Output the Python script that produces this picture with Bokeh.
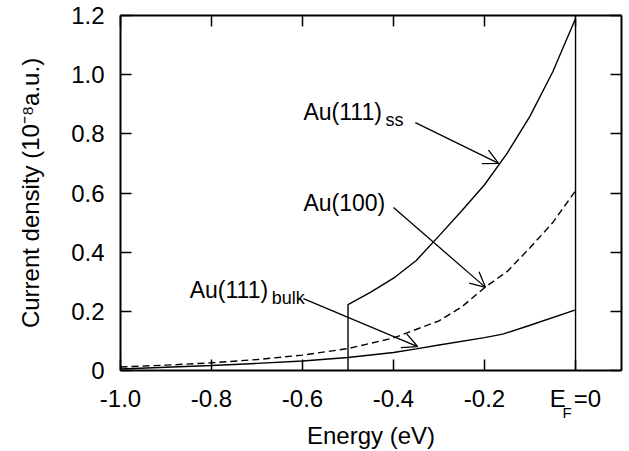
from bokeh.plotting import figure
from bokeh.models import Range1d, LinearAxis, FixedTicker, Label, Arrow, OpenHead, CustomJSTickFormatter
from bokeh.embed import file_html
from bokeh.resources import INLINE

# ---- data ----
energy_ss = [-0.5, -0.5, -0.45, -0.4, -0.35, -0.3, -0.25, -0.2, -0.15, -0.1, -0.05, 0.0, 0.0]
current_ss = [0.0, 0.223, 0.265, 0.312, 0.372, 0.455, 0.54, 0.628, 0.735, 0.86, 1.01, 1.19, 0.0]

energy_100 = [-1.0, -0.9, -0.8, -0.7, -0.6, -0.5, -0.4, -0.3, -0.25, -0.2, -0.15, -0.1, -0.05, 0.0]
current_100 = [0.012, 0.018, 0.026, 0.037, 0.052, 0.074, 0.11, 0.168, 0.215, 0.28, 0.335, 0.415, 0.50, 0.608]

energy_bulk = [-1.0, -0.9, -0.8, -0.7, -0.6, -0.5, -0.4, -0.35, -0.3, -0.2, -0.16, -0.1, 0.0]
current_bulk = [0.005, 0.011, 0.017, 0.024, 0.032, 0.044, 0.061, 0.073, 0.086, 0.111, 0.123, 0.153, 0.205]

x_ticks = [-1.0, -0.8, -0.6, -0.4, -0.2, 0.0]
y_ticks = [0.0, 0.2, 0.4, 0.6, 0.8, 1.0, 1.2]

# annotation labels: (main text, subscript, x, y)
ann_text = ["Au(111)", "Au(100)", "Au(111)"]
ann_sub = ["ss", "", "bulk"]
ann_x = [-0.598, -0.598, -0.848]
ann_y = [0.873, 0.565, 0.272]
# arrows: start -> end
arr_x0 = [-0.352, -0.40, -0.598]
arr_y0 = [0.838, 0.551, 0.243]
arr_x1 = [-0.169, -0.198, -0.347]
arr_y1 = [0.700, 0.281, 0.081]

FONT = "Liberation Sans"

p = figure(width=629, height=451, x_range=Range1d(-1.0, 0.101), y_range=Range1d(0.0, 1.2),
           output_backend="svg", toolbar_location=None,
           min_border_left=120, min_border_top=15, min_border_right=8, min_border_bottom=81)
p.xgrid.visible = False
p.ygrid.visible = False
p.outline_line_color = None
p.background_fill_color = "white"
p.border_fill_color = "white"

fmt_x = CustomJSTickFormatter(code="""
if (Math.abs(tick) < 1e-9) return 'E\u2004=0';
return tick.toFixed(1);
""")
fmt_y = CustomJSTickFormatter(code="""
if (Math.abs(tick) < 1e-9) return '0';
return tick.toFixed(1);
""")

def style(ax, ticks, labels=True):
    ax.ticker = FixedTicker(ticks=ticks)
    ax.axis_line_width = 2
    ax.axis_line_color = "black"
    ax.major_tick_in = 11
    ax.major_tick_out = 0
    ax.minor_tick_in = 0
    ax.minor_tick_out = 0
    ax.major_tick_line_width = 1.5
    ax.major_tick_line_color = "black"
    if labels:
        ax.major_label_text_font = FONT
        ax.major_label_text_font_size = "24px"
        ax.major_label_text_color = "black"
        ax.axis_label_text_font = FONT
        ax.axis_label_text_font_size = "24px"
        ax.axis_label_text_font_style = "normal"
        ax.axis_label_text_color = "black"
    else:
        ax.major_label_text_font_size = "0px"
        ax.major_label_text_alpha = 0
        ax.major_label_standoff = 0

xax = p.xaxis[0]
yax = p.yaxis[0]
style(xax, x_ticks)
style(yax, y_ticks)
xax.formatter = fmt_x
yax.formatter = fmt_y
xax.major_label_standoff = 14
xax.axis_label = "Energy (eV)"
xax.axis_label_standoff = 7
yax.major_label_standoff = 16
yax.axis_label = "Current density (10\u207b\u2078a.u.)"
yax.axis_label_standoff = 24

top = LinearAxis()
style(top, x_ticks, labels=False)
p.add_layout(top, "above")
right = LinearAxis()
style(right, y_ticks, labels=False)
p.add_layout(right, "right")

# curves
p.line(energy_ss, current_ss, line_color="black", line_width=1.4)
p.line(energy_100, current_100, line_color="black", line_width=1.4, line_dash="7 4")
p.line(energy_bulk, current_bulk, line_color="black", line_width=1.4)

# annotations
for t, s, x, y in zip(ann_text, ann_sub, ann_x, ann_y):
    p.add_layout(Label(x=x, y=y, text=t, text_font=FONT, text_font_size="23px",
                       text_color="black", text_align="left", text_baseline="alphabetic"))
    if s:
        p.add_layout(Label(x=x, y=y, text=s, x_offset=82, y_offset=-8, text_font=FONT,
                           text_font_size="18px", text_color="black",
                           text_align="left", text_baseline="alphabetic"))

for x0, y0, x1, y1 in zip(arr_x0, arr_y0, arr_x1, arr_y1):
    p.add_layout(Arrow(x_start=x0, y_start=y0, x_end=x1, y_end=y1, line_width=1.3,
                       line_color="black",
                       end=OpenHead(size=15, line_width=1.3, line_color="black")))

# subscript F of the E_F tick label: placed in the left side panel so it is not clipped
p.add_layout(Label(x=0.0, y=0.0, text="F", x_offset=-13, y_offset=-42, text_font=FONT,
                   text_font_size="15px", text_color="black", text_align="left",
                   text_baseline="alphabetic"), "left")

open("out.html", "w").write(file_html(p, INLINE))
